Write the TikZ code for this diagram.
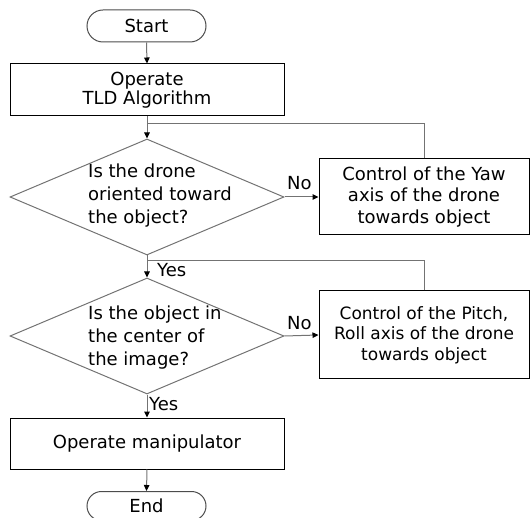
\documentclass[tikz,border=0pt]{standalone}
\usepackage{fontspec}
\setmainfont{DejaVu Sans}
\usetikzlibrary{arrows.meta,shapes.geometric,shapes.misc,positioning}
\tikzset{
  txt/.style={font=\fontsize{18}{21.7}\selectfont},
  boxnode/.style={draw=black, line width=1pt, rectangle, inner sep=0pt, align=center, txt},
  termnode/.style={draw=black!70, line width=1pt, rounded rectangle, inner sep=0pt, txt},
  decnode/.style={draw=black!55, line width=1pt, diamond, inner sep=0pt, minimum width=274pt, minimum height=116pt},
  decbody/.style={align=left, anchor=north west, inner sep=0pt, font=\fontsize{18}{23}\selectfont},
  conn/.style={draw=black!55, line width=1pt},
  arr/.style={conn, -{Triangle[length=6pt,width=5.5pt,color=black]}},
  lbl/.style={inner sep=0pt, anchor=base west, txt},
}
\begin{document}
\begin{tikzpicture}[x=1pt,y=-1pt]
\useasboundingbox (0,0) rectangle (530,518);
\node[termnode, minimum width=119pt, minimum height=32pt] (start) at (146.5,26) {Start};
\node[boxnode, minimum width=274pt, minimum height=52pt, font=\fontsize{18}{19.5}\selectfont] (tld) at (147,90) {Operate\\TLD Algorithm};
\node[decnode] (d1) at (147,197) {};
\node[decbody] (t1) at (88,164) {Is the drone\\oriented toward\\the object?};
\node[boxnode, minimum width=210pt, minimum height=76pt] (yaw) at (424,197) {Control of the Yaw\\axis of the drone\\towards object};
\node[decnode] (d2) at (147,336) {};
\node[decbody] (t2) at (88,306) {Is the object in\\the center of\\the image?};
\node[boxnode, minimum width=210pt, minimum height=88pt, font=\fontsize{17}{20.5}\selectfont] (pitch) at (424,335) {Control of the Pitch,\\Roll axis of the drone\\towards object};
\node[boxnode, minimum width=274pt, minimum height=51pt] (manip) at (147,443.5) {Operate manipulator};
\node[termnode, minimum width=119pt, minimum height=29pt] (end) at (146.5,506) {End};

\coordinate (j1) at (147,124);
\coordinate (j2) at (147,261);

\draw[arr] (start.south) -- (tld.north);
\draw[arr] (tld.south) -- (d1.north);
\draw[arr] (d1.east) -- (yaw.west);
\draw[conn] (yaw.north) |- (j1);
\draw[arr] (d1.south) -- (d2.north);
\draw[conn] (pitch.north) |- (j2);
\draw[arr] (d2.east) -- (pitch.west);
\draw[arr] (d2.south) -- (manip.north);
\draw[arr] (manip.south) -- (end.north);

\node[lbl] (no1) at (287,190) {No};
\node[lbl] (no2) at (287,330) {No};
\node[lbl] (yes1) at (157,277) {Yes};
\node[lbl] (yes2) at (149,410) {Yes};
\end{tikzpicture}
\end{document}
